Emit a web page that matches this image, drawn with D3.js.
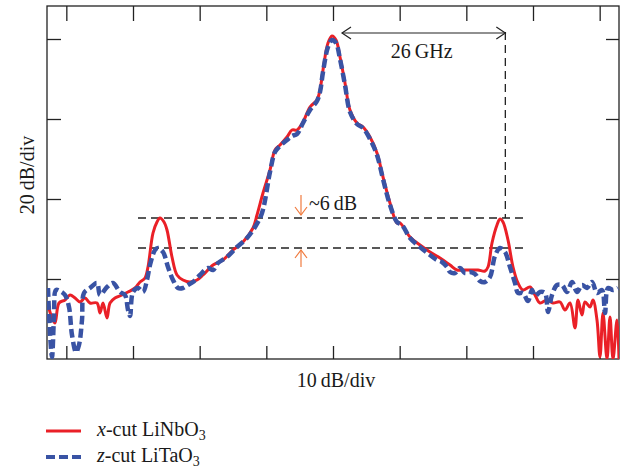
<!DOCTYPE html>
<html>
<head>
<meta charset="utf-8">
<script src="https://cdn.jsdelivr.net/npm/d3@7/dist/d3.min.js"></script>
<style>
  html, body { margin: 0; padding: 0; background: #fff; }
  svg { display: block; }
  text { font-family: "Liberation Serif", "DejaVu Serif", serif; fill: #1a1a1a; }
</style>
</head>
<body>
<svg id="chart" width="624" height="470"></svg>
<script>
// Offset frequency from the carrier (GHz) and power level (dB above the plot floor)
const xcutFreq = [-42.75,-42.15,-41.7,-41.1,-40.2,-39.45,-38.7,-37.95,-37.2,-36.45,-35.4,-34.95,-34.5,-33.9,-33.45,-32.7,-31.65,-30.75,-29.7,-28.95,-28.2,-27.75,-27,-26.4,-25.95,-25.35,-24.9,-24.15,-23.4,-22.5,-21.45,-20.4,-19.5,-18,-16.5,-15,-13.5,-12,-11.4,-10.5,-9.45,-8.7,-7.95,-6.9,-6.15,-5.4,-4.5,-3.45,-2.4,-1.95,-1.5,-0.75,-0.15,0.45,1.05,1.8,2.55,3.6,4.5,5.55,6.6,7.5,8.55,9.6,10.05,11.55,13.05,14.55,16.05,17.55,18.6,19.5,20.55,21.75,22.8,23.25,23.85,24.6,25.05,25.5,26.25,27,27.75,28.5,29.55,30.3,31.05,32.1,33,34.05,34.8,35.55,36.3,36.75,37.35,37.8,38.55,39,39.6,40.05,40.5,41.1,41.55,42,42.6,42.9];
const xcutLevel = [13.5,10.25,9,14,14.75,16,15.25,14.25,15.25,14,14,11.5,14,10.25,14,15.25,16,16.75,17.75,19.25,20.25,23,31.5,34.25,35.25,34.25,32.25,25.5,21,19.75,19.25,19.75,21,23.5,24.75,27.25,29.25,32.75,36,41.5,47.25,52.25,53.5,55.5,57.25,57.25,59.25,63,64.75,67.25,72.25,79,80.75,79.75,75.5,69,62.25,59,58,55.5,51.5,45.5,39,34,34,30.5,28.5,26.75,25.25,23.5,22.25,22.25,22.25,22.25,22,23,29,33.5,35,34.25,29.75,23,19,17.25,18,16,14,14.75,14,14.25,12.25,14,7.75,14.75,11,14.25,13,14.75,9.75,0.5,11.5,0,10.5,0,9.75,0];

const zcutFreq = [-42.75,-42.45,-42.15,-41.85,-41.55,-40.95,-40.2,-39.6,-39.15,-38.55,-38.1,-37.65,-37.35,-36.45,-35.4,-34.95,-33.9,-33,-31.95,-31.2,-30.75,-30.45,-30,-29.25,-28.5,-27.9,-27.45,-26.7,-26.25,-25.5,-24.75,-24,-23.25,-22.5,-21.75,-21,-19.95,-18.75,-18,-17.25,-15.9,-14.4,-12.9,-11.7,-10.65,-9.45,-8.7,-7.95,-6.9,-6.15,-5.4,-4.5,-3.45,-2.4,-1.95,-1.5,-0.75,-0.15,0.45,1.05,1.8,2.55,3.6,4.5,5.55,6.6,7.5,8.55,9.6,10.35,11.55,13.05,14.55,15.6,16.35,17.1,17.55,18.3,19.05,19.8,20.55,21.3,22.05,22.8,23.55,24.3,25.05,25.8,26.55,27.3,27.75,28.5,29.25,29.85,30.3,31.05,31.8,32.25,32.85,33.6,34.35,35.1,35.85,36.6,37.35,38.1,38.85,39.6,40.35,40.8,41.25,42,42.75];
const zcutLevel = [17.75,6.5,0.5,10.5,17.25,17,16,13,6,1.75,3.5,9.75,16.5,17.75,19,16,18,19,16.75,16,12.25,10.75,16.75,17.75,16.75,19.75,23.5,27.25,27.75,26.75,23,19.75,17.75,17.75,18.5,19.25,21,22.75,22.25,24,25.5,28,30.25,33,36.5,46.75,51.75,53.25,54.75,55.75,56.25,59,62.25,64.5,66.75,71.75,78,79.75,79,75,68.5,61.75,58.75,57.75,55,51,45,38.5,34.25,33.5,30.25,28,26,24.75,24.25,23,21.75,21.5,22.75,21.5,21.75,21.25,19.5,19.25,20.5,25.75,27.75,26.75,23,19,16.5,16.5,14.5,17.25,15.75,16.75,16.5,11.75,16,18.5,18.5,16.75,19.25,16.75,18.5,17.75,19.25,16.5,17.25,11.5,17.75,17.25,17.75];

const xTicks = [-40, -30, -20, -10, 0, 10, 20, 30, 40];
const yTicks = [20, 40, 60, 80];

const carrier = -0.15;          // centre line position (GHz)
const spacing = 26;             // sideband offset (GHz)
const xcutSideband = 35.25;     // x-cut sideband level (dB)
const zcutSideband = 27.75;     // z-cut sideband level (dB)

const svg = d3.select("#chart");
const plot = { left: 47, right: 619, top: 6, bottom: 359 };
const FS = 20;

const x = d3.scaleLinear().domain([-42.9, 42.9]).range([plot.left, plot.right]);
const y = d3.scaleLinear().domain([0, 88.25]).range([plot.bottom, plot.top]);

svg.append("defs").append("clipPath").attr("id", "plotClip")
  .append("rect")
  .attr("x", plot.left).attr("y", plot.top)
  .attr("width", plot.right - plot.left).attr("height", plot.bottom - plot.top);

// Frame with inward ticks on all four sides
const frame = svg.append("g");
frame.append("rect")
  .attr("x", plot.left).attr("y", plot.top)
  .attr("width", plot.right - plot.left).attr("height", plot.bottom - plot.top)
  .attr("fill", "none").attr("stroke", "#222").attr("stroke-width", 1.3);

const axisBottom = d3.axisBottom(x).tickValues(xTicks).tickSizeInner(-13).tickSizeOuter(0).tickFormat("");
const axisTop = d3.axisTop(x).tickValues(xTicks).tickSizeInner(-15).tickSizeOuter(0).tickFormat("");
const axisLeft = d3.axisLeft(y).tickValues(yTicks).tickSizeInner(-14).tickSizeOuter(0).tickFormat("");
const axisRight = d3.axisRight(y).tickValues(yTicks).tickSizeInner(-13).tickSizeOuter(0).tickFormat("");

[[axisBottom, `translate(0,${plot.bottom})`], [axisTop, `translate(0,${plot.top})`],
 [axisLeft, `translate(${plot.left},0)`], [axisRight, `translate(${plot.right},0)`]].forEach(([ax, tr]) => {
  const g = frame.append("g").attr("transform", tr).call(ax);
  g.select(".domain").remove();
  g.selectAll(".tick line").attr("stroke", "#222").attr("stroke-width", 1.3);
});

// Reference levels for the two sidebands
const guides = svg.append("g").attr("stroke", "#222").attr("stroke-width", 1.3)
  .attr("stroke-dasharray", "8,5").attr("fill", "none");
[xcutSideband, zcutSideband].forEach(v => {
  guides.append("line")
    .attr("x1", x(-29.25)).attr("x2", x(29.1))
    .attr("y1", y(v)).attr("y2", y(v));
});
guides.append("line")
  .attr("x1", x(carrier + spacing)).attr("x2", x(carrier + spacing))
  .attr("y1", y(81.75)).attr("y2", y(xcutSideband));

// Spectra
const line = d3.line().x(d => x(d[0])).y(d => y(d[1])).curve(d3.curveCatmullRom.alpha(0.5));
const curves = svg.append("g").attr("clip-path", "url(#plotClip)");

curves.append("path")
  .datum(d3.zip(xcutFreq, xcutLevel))
  .attr("d", line)
  .attr("fill", "none").attr("stroke", "#ea2027").attr("stroke-width", 3)
  .attr("stroke-linejoin", "round");

curves.append("path")
  .datum(d3.zip(zcutFreq, zcutLevel))
  .attr("d", line)
  .attr("fill", "none").attr("stroke", "#3953a4").attr("stroke-width", 4.5)
  .attr("stroke-dasharray", "9,4");

// Sideband spacing annotation
const ann = svg.append("g");
const ay = y(81.5);
const ax1 = x(carrier + 1.5), ax2 = x(carrier + spacing);
ann.append("line").attr("x1", ax1).attr("x2", ax2 - 1).attr("y1", ay).attr("y2", ay)
  .attr("stroke", "#222").attr("stroke-width", 1.2);
ann.append("path").attr("d", `M${ax1 + 9},${ay - 6} L${ax1},${ay} L${ax1 + 9},${ay + 6}`)
  .attr("fill", "none").attr("stroke", "#222").attr("stroke-width", 1.2);
ann.append("path").attr("d", `M${ax2 - 9},${ay - 6} L${ax2},${ay} L${ax2 - 9},${ay + 6}`)
  .attr("fill", "none").attr("stroke", "#222").attr("stroke-width", 1.2);
ann.append("text").attr("x", (ax1 + ax2) / 2 - 2).attr("y", y(75.2))
  .attr("text-anchor", "middle").attr("font-size", FS)
  .text(`${spacing}\u2009GHz`);

// Level difference markers
const ox = x(-4.8);
const orange = "#f07b3f";
const marks = svg.append("g").attr("stroke", orange).attr("stroke-width", 1.2).attr("fill", "none");
marks.append("line").attr("x1", ox).attr("x2", ox).attr("y1", y(41)).attr("y2", y(xcutSideband) - 3);
marks.append("path").attr("d", `M${ox - 6},${y(xcutSideband) - 11} L${ox},${y(xcutSideband) - 3} L${ox + 6},${y(xcutSideband) - 11}`);
marks.append("line").attr("x1", ox).attr("x2", ox).attr("y1", y(23)).attr("y2", y(zcutSideband) + 2);
marks.append("path").attr("d", `M${ox - 6},${y(zcutSideband) + 10} L${ox},${y(zcutSideband) + 2} L${ox + 6},${y(zcutSideband) + 10}`);

svg.append("text").attr("x", ox + 8).attr("y", y(37.3)).attr("font-size", FS)
  .text("~6\u2009dB");

// Axis titles
svg.append("text").attr("x", 336).attr("y", 387).attr("text-anchor", "middle")
  .attr("font-size", FS).text("10\u2009dB/div");
svg.append("text").attr("transform", "translate(34,175) rotate(-90)")
  .attr("text-anchor", "middle").attr("font-size", FS).text("20\u2009dB/div");

// Legend
const legend = svg.append("g");
const legendItems = [
  { italic: "x", rest: "-cut LiNbO", sub: "3", color: "#ea2027", dash: null, width: 3, y: 431 },
  { italic: "z", rest: "-cut LiTaO", sub: "3", color: "#3953a4", dash: "9,4", width: 4, y: 457 }
];
legendItems.forEach(it => {
  legend.append("line").attr("x1", 46).attr("x2", 81).attr("y1", it.y).attr("y2", it.y)
    .attr("stroke", it.color).attr("stroke-width", it.width)
    .attr("stroke-dasharray", it.dash);
  const t = legend.append("text").attr("x", 97).attr("y", it.y + 5).attr("font-size", FS);
  t.append("tspan").attr("font-style", "italic").text(it.italic);
  t.append("tspan").text(it.rest);
  t.append("tspan").attr("font-size", 14).attr("dy", 4).text(it.sub);
});
</script>
</body>
</html>
